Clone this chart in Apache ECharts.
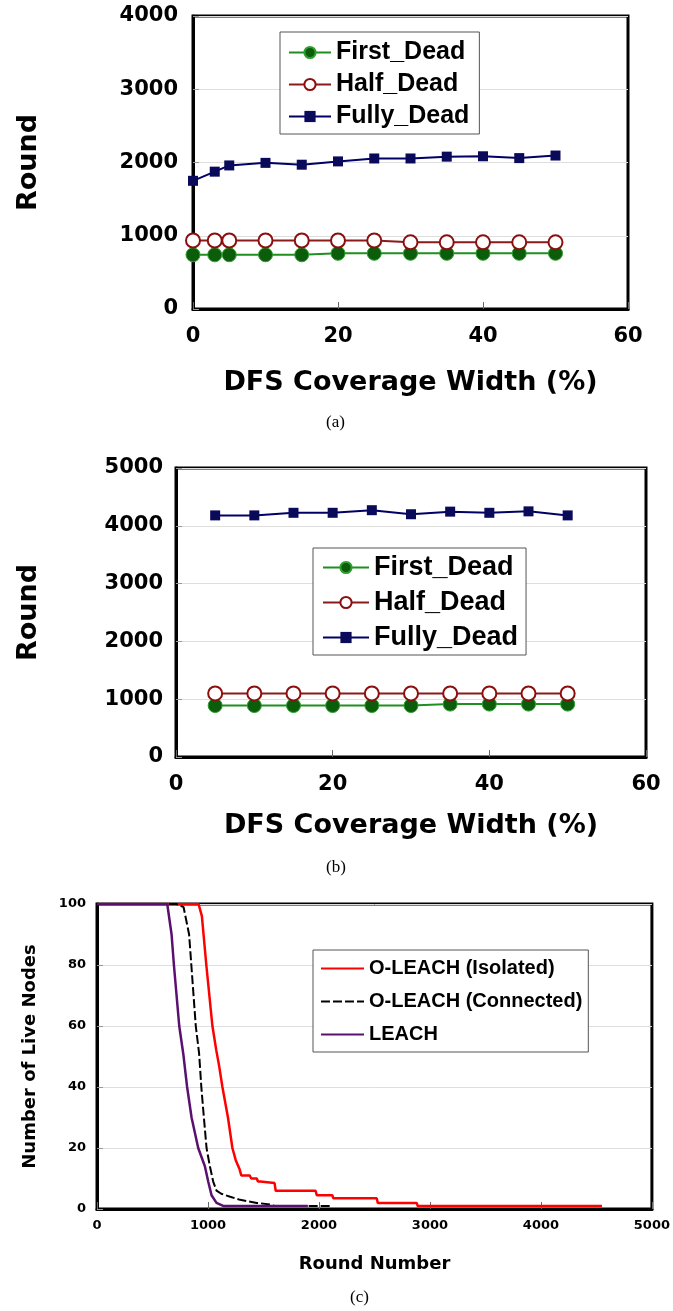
<!DOCTYPE html>
<html><head><meta charset="utf-8">
<script src="https://cdn.jsdelivr.net/npm/echarts/dist/echarts.min.js"></script>
<style>html,body{margin:0;padding:0;background:#fff}#c{width:673px;height:1311px}</style>
</head><body><div id="c"></div><script>
// ---- Panel (a) ----
const coverageA = [0, 3, 5, 10, 15, 20, 25, 30, 35, 40, 45, 50];
const firstDeadA = [740, 740, 740, 740, 740, 760, 760, 760, 760, 760, 760, 760];
const halfDeadA = [935, 935, 935, 935, 935, 935, 935, 910, 910, 910, 910, 910];
const fullyDeadA = [1750, 1875, 1960, 1995, 1970, 2015, 2055, 2055, 2080, 2085, 2060, 2095];
// ---- Panel (b) ----
const coverageB = [5, 10, 15, 20, 25, 30, 35, 40, 45, 50];
const firstDeadB = [890, 890, 890, 890, 890, 890, 915, 915, 915, 915];
const halfDeadB = [1100, 1100, 1100, 1100, 1100, 1100, 1100, 1100, 1100, 1100];
const fullyDeadB = [4180, 4180, 4225, 4225, 4270, 4200, 4245, 4225, 4250, 4180];
// ---- Panel (c) ----
const isolatedRound = [0, 915, 945, 985, 1040, 1075, 1100, 1130, 1180, 1220, 1250, 1285, 1300, 1375, 1390, 1440, 1450, 1470, 1480, 1600, 1610, 1970, 1980, 2120, 2130, 2520, 2530, 2880, 2890, 4550];
const isolatedNodes = [100, 100, 96, 80, 60, 52, 47, 40, 30, 20, 16, 13, 11, 11, 10, 10, 9, 9, 8.5, 8.5, 6, 6, 4.5, 4.5, 3.5, 3.5, 2, 2, 1, 1];
const connectedRound = [0, 715, 780, 830, 850, 890, 920, 940, 963, 987, 1017, 1047, 1077, 1120, 1200, 1290, 1440, 1560, 1600, 2120];
const connectedNodes = [100, 100, 99, 90, 80, 60, 51, 40, 30, 20, 14, 9, 6, 5, 4, 3, 2, 1.5, 1, 1];
const leachRound = [0, 633, 672, 693, 741, 777, 812, 852, 912, 972, 1002, 1032, 1077, 1137, 1900];
const leachNodes = [100, 100, 90, 80, 60, 51, 40, 30, 20, 14, 9, 4.5, 2, 1, 1];

const seriesNamesAB = ['First_Dead', 'Half_Dead', 'Fully_Dead'];
const seriesNamesC = ['O-LEACH (Isolated)', 'O-LEACH (Connected)', 'LEACH'];

const pair = (xs, ys) => xs.map((x, i) => [x, ys[i]]);
const tickFont = { fontFamily: 'DejaVu Sans', fontWeight: 'bold', color: '#000', formatter: v => String(v) };

function mkX(gi, min, max, interval, name, fs, gap, labelFs, margin) {
  return {
    gridIndex: gi, type: 'value', min, max, interval, name, nameLocation: 'middle', nameGap: gap,
    nameTextStyle: { fontFamily: 'DejaVu Sans', fontWeight: 'bold', fontSize: fs, color: '#000' },
    axisLine: { show: true, onZero: false, lineStyle: { color: '#000', width: 3 } },
    axisTick: { show: true, inside: true, length: 7, lineStyle: { color: '#666', width: 1 } },
    axisLabel: Object.assign({ fontSize: labelFs, margin }, tickFont),
    splitLine: { show: false }
  };
}
function mkY(gi, min, max, interval, name, fs, gap, labelFs, margin) {
  return {
    gridIndex: gi, type: 'value', min, max, interval, name, nameLocation: 'middle', nameGap: gap, nameRotate: 90,
    nameTextStyle: { fontFamily: 'DejaVu Sans', fontWeight: 'bold', fontSize: fs, color: '#000' },
    axisLine: { show: true, onZero: false, lineStyle: { color: '#000', width: 3 } },
    axisTick: { show: true, inside: true, length: 6, lineStyle: { color: '#999', width: 1 } },
    axisLabel: Object.assign({ fontSize: labelFs, margin }, tickFont),
    splitLine: { show: true, lineStyle: { color: '#dedede', width: 1 } }
  };
}

const greenStyle = { symbol: 'circle', symbolSize: 14, itemStyle: { color: '#0b5d0b', borderColor: '#2f9f2f', borderWidth: 1 }, lineStyle: { color: '#1f8f1f', width: 2 } };
const redStyle = { symbol: 'circle', symbolSize: 14, itemStyle: { color: '#ffffff', borderColor: '#8b0f0f', borderWidth: 2 }, lineStyle: { color: '#8b1a1a', width: 2 } };
const blueStyle = { symbol: 'rect', symbolSize: 10, itemStyle: { color: '#0a0a5a' }, lineStyle: { color: '#000066', width: 2 } };

function dfsSeries(gi, xs, f, h, fl) {
  return [
    Object.assign({ type: 'line', name: seriesNamesAB[0], xAxisIndex: gi, yAxisIndex: gi, data: pair(xs, f), z: 3 }, greenStyle),
    Object.assign({ type: 'line', name: seriesNamesAB[1], xAxisIndex: gi, yAxisIndex: gi, data: pair(xs, h), z: 4 }, redStyle),
    Object.assign({ type: 'line', name: seriesNamesAB[2], xAxisIndex: gi, yAxisIndex: gi, data: pair(xs, fl), z: 5 }, blueStyle)
  ];
}

const legendBase = {
  orient: 'vertical', backgroundColor: '#fff', borderColor: '#555', borderWidth: 1,
  selectedMode: false, itemHeight: 14
};

const option = {
  animation: false,
  backgroundColor: '#fff',
  grid: [
    { left: 193, top: 16, width: 435, height: 293, show: true, borderColor: '#000', borderWidth: 3, backgroundColor: 'transparent' },
    { left: 176, top: 468, width: 470, height: 289, show: true, borderColor: '#000', borderWidth: 3, backgroundColor: 'transparent' },
    { left: 97, top: 904, width: 556, height: 305, show: true, borderColor: '#000', borderWidth: 3, backgroundColor: 'transparent' }
  ],
  xAxis: [
    mkX(0, 0, 60, 20, 'DFS Coverage Width (%)', 27, 60, 21, 17),
    mkX(1, 0, 60, 20, 'DFS Coverage Width (%)', 27, 55, 21, 17),
    mkX(2, 0, 5000, 1000, 'Round Number', 18, 46, 13, 10)
  ],
  yAxis: [
    mkY(0, 0, 4000, 1000, 'Round', 27, 151, 21, 15),
    mkY(1, 0, 5000, 1000, 'Round', 27, 134, 21, 13),
    mkY(2, 0, 100, 20, 'Number of Live Nodes', 18, 58, 13, 11)
  ],
  legend: [
    Object.assign({}, legendBase, {
      data: seriesNamesAB, left: 280, top: 32, itemWidth: 42, itemGap: 7, padding: [8, 10, 5, 8],
      textStyle: { fontFamily: 'Liberation Sans', fontWeight: 'bold', fontSize: 25, color: '#000', lineHeight: 24 }
    }),
    Object.assign({}, legendBase, {
      data: seriesNamesAB, left: 313, top: 548, itemWidth: 46, itemGap: 8, padding: [6, 8, 4, 9],
      textStyle: { fontFamily: 'Liberation Sans', fontWeight: 'bold', fontSize: 27, color: '#000', lineHeight: 26 }
    }),
    Object.assign({}, legendBase, {
      data: seriesNamesC, left: 313, top: 950, itemWidth: 43, itemGap: 12, padding: [8, 6, 7, 7],
      itemStyle: { opacity: 0 },
      textStyle: { fontFamily: 'Liberation Sans', fontWeight: 'bold', fontSize: 20, color: '#000', lineHeight: 21 }
    })
  ],
  graphic: [
    { type: 'text', left: 326, top: 414, style: { text: '(a)', font: '17px "Liberation Serif"', fill: '#000' } },
    { type: 'text', left: 326, top: 859, style: { text: '(b)', font: '17px "Liberation Serif"', fill: '#000' } },
    { type: 'text', left: 350, top: 1289, style: { text: '(c)', font: '17px "Liberation Serif"', fill: '#000' } }
  ],
  series: [].concat(
    dfsSeries(0, coverageA, firstDeadA, halfDeadA, fullyDeadA),
    dfsSeries(1, coverageB, firstDeadB, halfDeadB, fullyDeadB),
    [
      { type: 'line', name: seriesNamesC[0], xAxisIndex: 2, yAxisIndex: 2, data: pair(isolatedRound, isolatedNodes), showSymbol: false, symbol: 'none', lineStyle: { color: '#ff0000', width: 2.5 }, itemStyle: { color: '#ff0000' }, z: 3 },
      { type: 'line', name: seriesNamesC[1], xAxisIndex: 2, yAxisIndex: 2, data: pair(connectedRound, connectedNodes), showSymbol: false, symbol: 'none', lineStyle: { color: '#000000', width: 2, type: [9, 3] }, itemStyle: { color: '#000' }, z: 4 },
      { type: 'line', name: seriesNamesC[2], xAxisIndex: 2, yAxisIndex: 2, data: pair(leachRound, leachNodes), showSymbol: false, symbol: 'none', lineStyle: { color: '#5a1070', width: 2.5 }, itemStyle: { color: '#5a1070' }, z: 5 }
    ]
  )
};

const chart = echarts.init(document.getElementById('c'), null, { renderer: 'canvas', width: 673, height: 1311 });
chart.setOption(option);
</script></body></html>
